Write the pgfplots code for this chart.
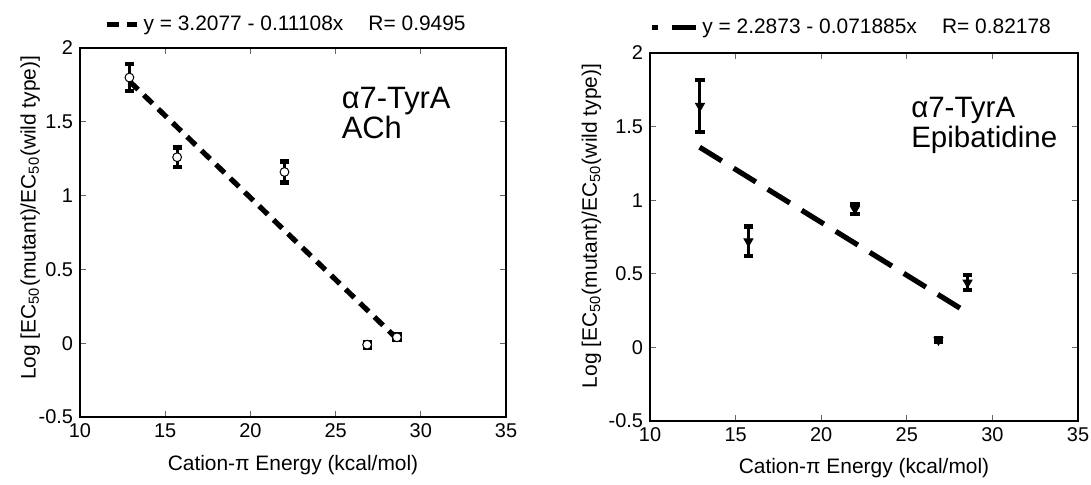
\documentclass[border=0pt]{standalone}
\usepackage{fontspec}
\setmainfont{Liberation Sans}
\usepackage{pgfplots}
\pgfplotsset{compat=1.18}

\pgfplotsset{
    scatterbox/.style={
            scale only axis,
            width=213bp, height=184.5bp,
            xmin=10, xmax=35, ymin=-0.5, ymax=2,
            xtick={10,15,...,35}, ytick={-0.5,0,...,2},
            tick align=inside,
            major tick length=2.8bp,
            axis line style={line width=0.9bp},
            tick style={line width=0.4bp, black!60},
            /pgf/number format/assume math mode=true,
            tick label style={font=\fontsize{10}{12}\selectfont},
            label style={font=\fontsize{10.5}{12}\selectfont},
            xlabel={Cation-π Energy (kcal/mol)},
            ylabel={Log [EC\textsubscript{50}(mutant)/EC\textsubscript{50}(wild type)]},
            legend style={draw=none, fill=none, at={(0.5,1)}, anchor=south,
                    font=\fontsize{10.5}{12}\selectfont, inner sep=0pt},
            legend cell align=left,
        },
    errpts/.style={
            only marks,
            error bars/y dir=both,
            error bars/y explicit,
            error bars/error bar style={line width=1.5bp, black},
            error bars/error mark options={rotate=90, line width=2.2bp, mark size=2.3bp, black},
        },
}

\begin{document}
\begin{tikzpicture}
    \begin{axis}[
            scatterbox,
            at={(40bp,34bp)}, anchor=south west,
            xlabel style={at={(axis description cs:0.5,-0.13)}, anchor=center},
            ylabel style={at={(axis description cs:-0.117,0.54)}, anchor=center},
            legend style={yshift=5bp, xshift=-3bp},
            legend image code/.code={\draw[#1] (0bp,0bp) -- (15bp,0bp);},
        ]
        \addplot[line width=2.6bp, dash pattern=on 6bp off 4bp] coordinates {(12.9,1.7748) (28.6,0.0308)};
        \addlegendentry{y = 3.2077 - 0.11108x\hspace{1.2em}R= 0.9495}
        \addplot[errpts, forget plot, mark=*, mark size=2.2bp,
            mark options={fill=white, draw=black, line width=0.5bp}]
        coordinates {
                (12.9,1.80) +- (0,0.09)
                (15.7,1.26) +- (0,0.065)
                (22.0,1.16) +- (0,0.07)
                (26.85,-0.01) +- (0,0.02)
                (28.6,0.04) +- (0,0.02)
            };
        \node[anchor=west, align=left, font=\fontsize{15.5}{14}\selectfont] at (axis cs:24.95,1.56) {α7-TyrA\\ACh};
    \end{axis}

    \begin{axis}[
            scatterbox,
            width=214bp, height=184bp,
            at={(325bp,32bp)}, anchor=south west,
            xlabel style={at={(axis description cs:0.5,-0.128)}, anchor=center},
            ylabel style={at={(axis description cs:-0.137,0.53)}, anchor=center},
            legend style={yshift=6bp, xshift=-6bp},
            legend image code/.code={\draw[#1, dash phase=10bp] (0bp,0bp) -- (22bp,0bp);},
        ]
        \addplot[line width=2.6bp, dash pattern=on 13bp off 7bp] coordinates {(12.9,1.3600) (28.6,0.2314)};
        \addlegendentry{y = 2.2873 - 0.071885x\hspace{1.2em}R= 0.82178}
        \addplot[errpts, forget plot, mark=triangle*, mark size=2.6bp,
            mark options={rotate=180, fill=black, draw=black}]
        coordinates {
                (12.92,1.64) +- (0,0.175)
                (15.75,0.72) +- (0,0.10)
                (21.97,0.94) +- (0,0.035)
                (26.85,0.05) +- (0,0.015)
                (28.55,0.44) +- (0,0.05)
            };
        \node[anchor=west, align=left, font=\fontsize{14.8}{15}\selectfont] at (axis cs:24.85,1.51) {α7-TyrA\\Epibatidine};
    \end{axis}
    \pgfresetboundingbox
    \useasboundingbox (0bp,0bp) rectangle (545.5bp,242.5bp);
\end{tikzpicture}
\end{document}
